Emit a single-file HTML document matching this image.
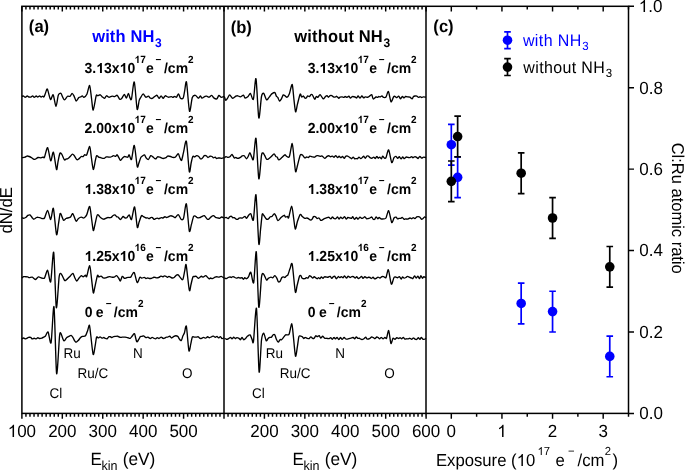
<!DOCTYPE html>
<html><head><meta charset="utf-8"><style>
html,body{margin:0;padding:0;background:#fff;}
body{width:685px;height:470px;overflow:hidden;}
svg{display:block;font-family:"Liberation Sans", sans-serif;text-rendering:geometricPrecision;will-change:transform;}
</style></head><body>
<svg width="685" height="470" viewBox="0 0 685 470">
<rect width="685" height="470" fill="#fff"/>
<path d="M21.90 6.30v5.3M21.90 413.40v5.3M25.94 6.30v3.3M25.94 413.40v3.3M29.98 6.30v3.3M29.98 413.40v3.3M34.03 6.30v3.3M34.03 413.40v3.3M38.07 6.30v3.3M38.07 413.40v3.3M42.11 6.30v3.3M42.11 413.40v3.3M46.15 6.30v3.3M46.15 413.40v3.3M50.19 6.30v3.3M50.19 413.40v3.3M54.24 6.30v3.3M54.24 413.40v3.3M58.28 6.30v3.3M58.28 413.40v3.3M62.32 6.30v5.3M62.32 413.40v5.3M66.36 6.30v3.3M66.36 413.40v3.3M70.40 6.30v3.3M70.40 413.40v3.3M74.45 6.30v3.3M74.45 413.40v3.3M78.49 6.30v3.3M78.49 413.40v3.3M82.53 6.30v3.3M82.53 413.40v3.3M86.57 6.30v3.3M86.57 413.40v3.3M90.61 6.30v3.3M90.61 413.40v3.3M94.66 6.30v3.3M94.66 413.40v3.3M98.70 6.30v3.3M98.70 413.40v3.3M102.74 6.30v5.3M102.74 413.40v5.3M106.78 6.30v3.3M106.78 413.40v3.3M110.82 6.30v3.3M110.82 413.40v3.3M114.87 6.30v3.3M114.87 413.40v3.3M118.91 6.30v3.3M118.91 413.40v3.3M122.95 6.30v3.3M122.95 413.40v3.3M126.99 6.30v3.3M126.99 413.40v3.3M131.03 6.30v3.3M131.03 413.40v3.3M135.08 6.30v3.3M135.08 413.40v3.3M139.12 6.30v3.3M139.12 413.40v3.3M143.16 6.30v5.3M143.16 413.40v5.3M147.20 6.30v3.3M147.20 413.40v3.3M151.24 6.30v3.3M151.24 413.40v3.3M155.29 6.30v3.3M155.29 413.40v3.3M159.33 6.30v3.3M159.33 413.40v3.3M163.37 6.30v3.3M163.37 413.40v3.3M167.41 6.30v3.3M167.41 413.40v3.3M171.45 6.30v3.3M171.45 413.40v3.3M175.50 6.30v3.3M175.50 413.40v3.3M179.54 6.30v3.3M179.54 413.40v3.3M183.58 6.30v5.3M183.58 413.40v5.3M187.62 6.30v3.3M187.62 413.40v3.3M191.66 6.30v3.3M191.66 413.40v3.3M195.71 6.30v3.3M195.71 413.40v3.3M199.75 6.30v3.3M199.75 413.40v3.3M203.79 6.30v3.3M203.79 413.40v3.3M207.83 6.30v3.3M207.83 413.40v3.3M211.87 6.30v3.3M211.87 413.40v3.3M215.92 6.30v3.3M215.92 413.40v3.3M219.96 6.30v3.3M219.96 413.40v3.3M224.00 6.30v5.3M224.00 413.40v5.3M224.00 6.30v5.3M224.00 413.40v5.3M228.04 6.30v3.3M228.04 413.40v3.3M232.08 6.30v3.3M232.08 413.40v3.3M236.13 6.30v3.3M236.13 413.40v3.3M240.17 6.30v3.3M240.17 413.40v3.3M244.21 6.30v3.3M244.21 413.40v3.3M248.25 6.30v3.3M248.25 413.40v3.3M252.29 6.30v3.3M252.29 413.40v3.3M256.34 6.30v3.3M256.34 413.40v3.3M260.38 6.30v3.3M260.38 413.40v3.3M264.42 6.30v5.3M264.42 413.40v5.3M268.46 6.30v3.3M268.46 413.40v3.3M272.50 6.30v3.3M272.50 413.40v3.3M276.55 6.30v3.3M276.55 413.40v3.3M280.59 6.30v3.3M280.59 413.40v3.3M284.63 6.30v3.3M284.63 413.40v3.3M288.67 6.30v3.3M288.67 413.40v3.3M292.71 6.30v3.3M292.71 413.40v3.3M296.76 6.30v3.3M296.76 413.40v3.3M300.80 6.30v3.3M300.80 413.40v3.3M304.84 6.30v5.3M304.84 413.40v5.3M308.88 6.30v3.3M308.88 413.40v3.3M312.92 6.30v3.3M312.92 413.40v3.3M316.97 6.30v3.3M316.97 413.40v3.3M321.01 6.30v3.3M321.01 413.40v3.3M325.05 6.30v3.3M325.05 413.40v3.3M329.09 6.30v3.3M329.09 413.40v3.3M333.13 6.30v3.3M333.13 413.40v3.3M337.18 6.30v3.3M337.18 413.40v3.3M341.22 6.30v3.3M341.22 413.40v3.3M345.26 6.30v5.3M345.26 413.40v5.3M349.30 6.30v3.3M349.30 413.40v3.3M353.34 6.30v3.3M353.34 413.40v3.3M357.39 6.30v3.3M357.39 413.40v3.3M361.43 6.30v3.3M361.43 413.40v3.3M365.47 6.30v3.3M365.47 413.40v3.3M369.51 6.30v3.3M369.51 413.40v3.3M373.55 6.30v3.3M373.55 413.40v3.3M377.60 6.30v3.3M377.60 413.40v3.3M381.64 6.30v3.3M381.64 413.40v3.3M385.68 6.30v5.3M385.68 413.40v5.3M389.72 6.30v3.3M389.72 413.40v3.3M393.76 6.30v3.3M393.76 413.40v3.3M397.81 6.30v3.3M397.81 413.40v3.3M401.85 6.30v3.3M401.85 413.40v3.3M405.89 6.30v3.3M405.89 413.40v3.3M409.93 6.30v3.3M409.93 413.40v3.3M413.97 6.30v3.3M413.97 413.40v3.3M418.02 6.30v3.3M418.02 413.40v3.3M422.06 6.30v3.3M422.06 413.40v3.3M426.10 6.30v5.3M426.10 413.40v5.3M426.00 6.30v3.3M426.00 413.40v3.3M451.31 6.30v5.3M451.31 413.40v5.3M476.62 6.30v3.3M476.62 413.40v3.3M501.94 6.30v5.3M501.94 413.40v5.3M527.25 6.30v3.3M527.25 413.40v3.3M552.56 6.30v5.3M552.56 413.40v5.3M577.88 6.30v3.3M577.88 413.40v3.3M603.19 6.30v5.3M603.19 413.40v5.3M628.50 6.30v3.3M628.50 413.40v3.3M628.50 413.40h5.5M628.50 331.98h5.5M628.50 250.56h5.5M628.50 169.14h5.5M628.50 87.72h5.5M628.50 6.30h5.5" stroke="#000" stroke-width="1.45" fill="none"/>
<rect x="21.90" y="6.30" width="606.60" height="407.10" fill="none" stroke="#000" stroke-width="1.5"/>
<line x1="224.00" y1="6.30" x2="224.00" y2="413.40" stroke="#000" stroke-width="1.5"/>
<line x1="426.00" y1="6.30" x2="426.00" y2="413.40" stroke="#000" stroke-width="1.5"/>
<path transform="translate(7.72 437.00) scale(0.00830 -0.00863)" fill="#000" d="M763 0H583V1097Q518 1038 412 979Q307 920 223 890V1057Q374 1125 487 1221Q600 1318 647 1409H763Z"/>
<text transform="translate(17.17 436.70) scale(1 1.04)" font-size="17" >00</text>
<text transform="translate(62.32 436.70) scale(1 1.04)" font-size="17" text-anchor="middle" >200</text>
<text transform="translate(102.74 436.70) scale(1 1.04)" font-size="17" text-anchor="middle" >300</text>
<text transform="translate(143.16 436.70) scale(1 1.04)" font-size="17" text-anchor="middle" >400</text>
<text transform="translate(183.58 436.70) scale(1 1.04)" font-size="17" text-anchor="middle" >500</text>
<text transform="translate(264.42 436.70) scale(1 1.04)" font-size="17" text-anchor="middle" >200</text>
<text transform="translate(304.84 436.70) scale(1 1.04)" font-size="17" text-anchor="middle" >300</text>
<text transform="translate(345.26 436.70) scale(1 1.04)" font-size="17" text-anchor="middle" >400</text>
<text transform="translate(385.68 436.70) scale(1 1.04)" font-size="17" text-anchor="middle" >500</text>
<text transform="translate(426.10 436.70) scale(1 1.04)" font-size="17" text-anchor="middle" >600</text>
<text transform="translate(451.31 436.70) scale(1 1.04)" font-size="17" text-anchor="middle" >0</text>
<path transform="translate(497.21 437.00) scale(0.00830 -0.00863)" fill="#000" d="M763 0H583V1097Q518 1038 412 979Q307 920 223 890V1057Q374 1125 487 1221Q600 1318 647 1409H763Z"/>
<text transform="translate(552.56 436.70) scale(1 1.04)" font-size="17" text-anchor="middle" >2</text>
<text transform="translate(603.19 436.70) scale(1 1.04)" font-size="17" text-anchor="middle" >3</text>
<text transform="translate(639.34 419.20) scale(1 1.04)" font-size="17" >0.0</text>
<text transform="translate(639.34 337.78) scale(1 1.04)" font-size="17" >0.2</text>
<text transform="translate(639.34 256.36) scale(1 1.04)" font-size="17" >0.4</text>
<text transform="translate(639.34 174.94) scale(1 1.04)" font-size="17" >0.6</text>
<text transform="translate(639.34 93.52) scale(1 1.04)" font-size="17" >0.8</text>
<path transform="translate(638.71 12.00) scale(0.00830 -0.00863)" fill="#000" d="M763 0H583V1097Q518 1038 412 979Q307 920 223 890V1057Q374 1125 487 1221Q600 1318 647 1409H763Z"/>
<text transform="translate(648.16 12.10) scale(1 1.04)" font-size="17" >.0</text>
<text transform="translate(90.41 464.70) scale(1 1.04)" font-size="17" >E</text>
<text transform="translate(101.46 470.00) scale(1 1.04)" font-size="12.5" >kin</text>
<text transform="translate(122.63 464.70) scale(1 1.04)" font-size="17.3" >(eV)</text>
<text transform="translate(292.41 464.70) scale(1 1.04)" font-size="17" >E</text>
<text transform="translate(303.46 470.00) scale(1 1.04)" font-size="12.5" >kin</text>
<text transform="translate(324.63 464.70) scale(1 1.04)" font-size="17.3" >(eV)</text>
<text transform="translate(435.93 466.00) scale(1 1.04)" font-size="16.7" >Exposure (</text>
<path transform="translate(516.68 466.00) scale(0.00815 -0.00848)" fill="#000" d="M763 0H583V1097Q518 1038 412 979Q307 920 223 890V1057Q374 1125 487 1221Q600 1318 647 1409H763Z"/>
<text transform="translate(525.97 466.00) scale(1 1.04)" font-size="16.7" >0</text>
<path transform="translate(537.54 455.00) scale(0.00552 -0.00574)" fill="#000" d="M763 0H583V1097Q518 1038 412 979Q307 920 223 890V1057Q374 1125 487 1221Q600 1318 647 1409H763Z"/>
<text transform="translate(543.82 454.60) scale(1 1.04)" font-size="11.3" >7</text>
<text transform="translate(555.49 466.00) scale(1 1.04)" font-size="16.7" >e</text>
<text transform="translate(568.04 454.60) scale(1 1.04)" font-size="11.3" >−</text>
<text transform="translate(577.60 466.00) scale(1 1.04)" font-size="16.7" >/cm</text>
<text transform="translate(604.83 454.60) scale(1 1.04)" font-size="11.3" >2</text>
<text transform="translate(612.60 466.00) scale(1 1.04)" font-size="16.7" >)</text>
<text transform="translate(12.2,210.3) rotate(-90) scale(1 1.04)" font-size="16.7" text-anchor="middle">dN/dE</text>
<text transform="translate(671.6,208.2) rotate(90) scale(1 1.04)" font-size="16.5" text-anchor="middle">Cl:Ru atomic ratio</text>
<text transform="translate(28.87 32.20) scale(1 1.04)" font-size="16.6" font-weight="bold" >(a)</text>
<text transform="translate(230.67 32.60) scale(1 1.04)" font-size="16.6" font-weight="bold" >(b)</text>
<text transform="translate(433.37 31.80) scale(1 1.04)" font-size="16.6" font-weight="bold" >(c)</text>
<text transform="translate(92.15 42.00) scale(1 1.04)" font-size="16.5" font-weight="bold" fill="#0000ff" letter-spacing="0.15">with NH</text>
<text transform="translate(154.92 46.60) scale(1 1.04)" font-size="12" font-weight="bold" fill="#0000ff" >3</text>
<text transform="translate(294.35 41.60) scale(1 1.04)" font-size="16.5" font-weight="bold" letter-spacing="0.15">without NH</text>
<text transform="translate(383.42 46.60) scale(1 1.04)" font-size="12" font-weight="bold" >3</text>
<text transform="translate(84.58 72.50) scale(1 1.04)" font-size="14" font-weight="bold" >3.</text>
<path transform="translate(96.25 73.00) scale(0.00684 -0.00711)" fill="#000" d="M825 0H544V1014Q390 876 181 810V1054Q291 1088 420 1184Q549 1280 597 1409H825Z"/>
<text transform="translate(104.04 72.50) scale(1 1.04)" font-size="14" font-weight="bold" >3x</text>
<path transform="translate(119.61 73.00) scale(0.00684 -0.00711)" fill="#000" d="M825 0H544V1014Q390 876 181 810V1054Q291 1088 420 1184Q549 1280 597 1409H825Z"/>
<text transform="translate(127.40 72.50) scale(1 1.04)" font-size="14" font-weight="bold" >0</text>
<path transform="translate(134.57 63.00) scale(0.00488 -0.00508)" fill="#000" d="M825 0H544V1014Q390 876 181 810V1054Q291 1088 420 1184Q549 1280 597 1409H825Z"/>
<text transform="translate(140.13 62.70) scale(1 1.04)" font-size="10.0" font-weight="bold" >7</text>
<text transform="translate(146.05 72.50) scale(1 1.04)" font-size="14" font-weight="bold" >e</text>
<text transform="translate(155.58 62.50) scale(1 1.04)" font-size="10.0" font-weight="bold" >−</text>
<text transform="translate(163.96 72.50) scale(1 1.04)" font-size="14" font-weight="bold" >/cm</text>
<text transform="translate(187.95 62.80) scale(1 1.04)" font-size="10.0" font-weight="bold" >2</text>
<text transform="translate(307.68 72.50) scale(1 1.04)" font-size="14" font-weight="bold" >3.</text>
<path transform="translate(319.35 73.00) scale(0.00684 -0.00711)" fill="#000" d="M825 0H544V1014Q390 876 181 810V1054Q291 1088 420 1184Q549 1280 597 1409H825Z"/>
<text transform="translate(327.14 72.50) scale(1 1.04)" font-size="14" font-weight="bold" >3x</text>
<path transform="translate(342.71 73.00) scale(0.00684 -0.00711)" fill="#000" d="M825 0H544V1014Q390 876 181 810V1054Q291 1088 420 1184Q549 1280 597 1409H825Z"/>
<text transform="translate(350.50 72.50) scale(1 1.04)" font-size="14" font-weight="bold" >0</text>
<path transform="translate(357.67 63.00) scale(0.00488 -0.00508)" fill="#000" d="M825 0H544V1014Q390 876 181 810V1054Q291 1088 420 1184Q549 1280 597 1409H825Z"/>
<text transform="translate(363.23 62.70) scale(1 1.04)" font-size="10.0" font-weight="bold" >7</text>
<text transform="translate(369.15 72.50) scale(1 1.04)" font-size="14" font-weight="bold" >e</text>
<text transform="translate(378.68 62.50) scale(1 1.04)" font-size="10.0" font-weight="bold" >−</text>
<text transform="translate(387.06 72.50) scale(1 1.04)" font-size="14" font-weight="bold" >/cm</text>
<text transform="translate(411.05 62.80) scale(1 1.04)" font-size="10.0" font-weight="bold" >2</text>
<text transform="translate(84.58 133.00) scale(1 1.04)" font-size="14" font-weight="bold" >2.00x</text>
<path transform="translate(119.61 133.00) scale(0.00684 -0.00711)" fill="#000" d="M825 0H544V1014Q390 876 181 810V1054Q291 1088 420 1184Q549 1280 597 1409H825Z"/>
<text transform="translate(127.40 133.00) scale(1 1.04)" font-size="14" font-weight="bold" >0</text>
<path transform="translate(134.57 123.00) scale(0.00488 -0.00508)" fill="#000" d="M825 0H544V1014Q390 876 181 810V1054Q291 1088 420 1184Q549 1280 597 1409H825Z"/>
<text transform="translate(140.13 123.20) scale(1 1.04)" font-size="10.0" font-weight="bold" >7</text>
<text transform="translate(146.05 133.00) scale(1 1.04)" font-size="14" font-weight="bold" >e</text>
<text transform="translate(155.58 123.00) scale(1 1.04)" font-size="10.0" font-weight="bold" >−</text>
<text transform="translate(163.96 133.00) scale(1 1.04)" font-size="14" font-weight="bold" >/cm</text>
<text transform="translate(187.95 123.30) scale(1 1.04)" font-size="10.0" font-weight="bold" >2</text>
<text transform="translate(307.68 133.00) scale(1 1.04)" font-size="14" font-weight="bold" >2.00x</text>
<path transform="translate(342.71 133.00) scale(0.00684 -0.00711)" fill="#000" d="M825 0H544V1014Q390 876 181 810V1054Q291 1088 420 1184Q549 1280 597 1409H825Z"/>
<text transform="translate(350.50 133.00) scale(1 1.04)" font-size="14" font-weight="bold" >0</text>
<path transform="translate(357.67 123.00) scale(0.00488 -0.00508)" fill="#000" d="M825 0H544V1014Q390 876 181 810V1054Q291 1088 420 1184Q549 1280 597 1409H825Z"/>
<text transform="translate(363.23 123.20) scale(1 1.04)" font-size="10.0" font-weight="bold" >7</text>
<text transform="translate(369.15 133.00) scale(1 1.04)" font-size="14" font-weight="bold" >e</text>
<text transform="translate(378.68 123.00) scale(1 1.04)" font-size="10.0" font-weight="bold" >−</text>
<text transform="translate(387.06 133.00) scale(1 1.04)" font-size="14" font-weight="bold" >/cm</text>
<text transform="translate(411.05 123.30) scale(1 1.04)" font-size="10.0" font-weight="bold" >2</text>
<path transform="translate(84.58 194.00) scale(0.00684 -0.00711)" fill="#000" d="M825 0H544V1014Q390 876 181 810V1054Q291 1088 420 1184Q549 1280 597 1409H825Z"/>
<text transform="translate(92.36 194.10) scale(1 1.04)" font-size="14" font-weight="bold" >.38x</text>
<path transform="translate(119.61 194.00) scale(0.00684 -0.00711)" fill="#000" d="M825 0H544V1014Q390 876 181 810V1054Q291 1088 420 1184Q549 1280 597 1409H825Z"/>
<text transform="translate(127.40 194.10) scale(1 1.04)" font-size="14" font-weight="bold" >0</text>
<path transform="translate(134.57 184.00) scale(0.00488 -0.00508)" fill="#000" d="M825 0H544V1014Q390 876 181 810V1054Q291 1088 420 1184Q549 1280 597 1409H825Z"/>
<text transform="translate(140.13 184.30) scale(1 1.04)" font-size="10.0" font-weight="bold" >7</text>
<text transform="translate(146.05 194.10) scale(1 1.04)" font-size="14" font-weight="bold" >e</text>
<text transform="translate(155.58 184.10) scale(1 1.04)" font-size="10.0" font-weight="bold" >−</text>
<text transform="translate(163.96 194.10) scale(1 1.04)" font-size="14" font-weight="bold" >/cm</text>
<text transform="translate(187.95 184.40) scale(1 1.04)" font-size="10.0" font-weight="bold" >2</text>
<path transform="translate(307.68 194.00) scale(0.00684 -0.00711)" fill="#000" d="M825 0H544V1014Q390 876 181 810V1054Q291 1088 420 1184Q549 1280 597 1409H825Z"/>
<text transform="translate(315.46 194.10) scale(1 1.04)" font-size="14" font-weight="bold" >.38x</text>
<path transform="translate(342.71 194.00) scale(0.00684 -0.00711)" fill="#000" d="M825 0H544V1014Q390 876 181 810V1054Q291 1088 420 1184Q549 1280 597 1409H825Z"/>
<text transform="translate(350.50 194.10) scale(1 1.04)" font-size="14" font-weight="bold" >0</text>
<path transform="translate(357.67 184.00) scale(0.00488 -0.00508)" fill="#000" d="M825 0H544V1014Q390 876 181 810V1054Q291 1088 420 1184Q549 1280 597 1409H825Z"/>
<text transform="translate(363.23 184.30) scale(1 1.04)" font-size="10.0" font-weight="bold" >7</text>
<text transform="translate(369.15 194.10) scale(1 1.04)" font-size="14" font-weight="bold" >e</text>
<text transform="translate(378.68 184.10) scale(1 1.04)" font-size="10.0" font-weight="bold" >−</text>
<text transform="translate(387.06 194.10) scale(1 1.04)" font-size="14" font-weight="bold" >/cm</text>
<text transform="translate(411.05 184.40) scale(1 1.04)" font-size="10.0" font-weight="bold" >2</text>
<path transform="translate(84.58 261.00) scale(0.00684 -0.00711)" fill="#000" d="M825 0H544V1014Q390 876 181 810V1054Q291 1088 420 1184Q549 1280 597 1409H825Z"/>
<text transform="translate(92.36 260.60) scale(1 1.04)" font-size="14" font-weight="bold" >.25x</text>
<path transform="translate(119.61 261.00) scale(0.00684 -0.00711)" fill="#000" d="M825 0H544V1014Q390 876 181 810V1054Q291 1088 420 1184Q549 1280 597 1409H825Z"/>
<text transform="translate(127.40 260.60) scale(1 1.04)" font-size="14" font-weight="bold" >0</text>
<path transform="translate(134.57 251.00) scale(0.00488 -0.00508)" fill="#000" d="M825 0H544V1014Q390 876 181 810V1054Q291 1088 420 1184Q549 1280 597 1409H825Z"/>
<text transform="translate(140.13 250.80) scale(1 1.04)" font-size="10.0" font-weight="bold" >6</text>
<text transform="translate(146.05 260.60) scale(1 1.04)" font-size="14" font-weight="bold" >e</text>
<text transform="translate(155.58 250.60) scale(1 1.04)" font-size="10.0" font-weight="bold" >−</text>
<text transform="translate(163.96 260.60) scale(1 1.04)" font-size="14" font-weight="bold" >/cm</text>
<text transform="translate(187.95 250.90) scale(1 1.04)" font-size="10.0" font-weight="bold" >2</text>
<path transform="translate(307.68 261.00) scale(0.00684 -0.00711)" fill="#000" d="M825 0H544V1014Q390 876 181 810V1054Q291 1088 420 1184Q549 1280 597 1409H825Z"/>
<text transform="translate(315.46 260.60) scale(1 1.04)" font-size="14" font-weight="bold" >.25x</text>
<path transform="translate(342.71 261.00) scale(0.00684 -0.00711)" fill="#000" d="M825 0H544V1014Q390 876 181 810V1054Q291 1088 420 1184Q549 1280 597 1409H825Z"/>
<text transform="translate(350.50 260.60) scale(1 1.04)" font-size="14" font-weight="bold" >0</text>
<path transform="translate(357.67 251.00) scale(0.00488 -0.00508)" fill="#000" d="M825 0H544V1014Q390 876 181 810V1054Q291 1088 420 1184Q549 1280 597 1409H825Z"/>
<text transform="translate(363.23 250.80) scale(1 1.04)" font-size="10.0" font-weight="bold" >6</text>
<text transform="translate(369.15 260.60) scale(1 1.04)" font-size="14" font-weight="bold" >e</text>
<text transform="translate(378.68 250.60) scale(1 1.04)" font-size="10.0" font-weight="bold" >−</text>
<text transform="translate(387.06 260.60) scale(1 1.04)" font-size="14" font-weight="bold" >/cm</text>
<text transform="translate(411.05 250.90) scale(1 1.04)" font-size="10.0" font-weight="bold" >2</text>
<text transform="translate(84.75 316.60) scale(1 1.04)" font-size="14" font-weight="bold" >0</text>
<text transform="translate(95.85 316.60) scale(1 1.04)" font-size="14" font-weight="bold" >e</text>
<text transform="translate(105.68 306.60) scale(1 1.04)" font-size="10.0" font-weight="bold" >−</text>
<text transform="translate(113.76 316.60) scale(1 1.04)" font-size="14" font-weight="bold" >/cm</text>
<text transform="translate(137.95 306.90) scale(1 1.04)" font-size="10.0" font-weight="bold" >2</text>
<text transform="translate(307.85 316.60) scale(1 1.04)" font-size="14" font-weight="bold" >0</text>
<text transform="translate(318.95 316.60) scale(1 1.04)" font-size="14" font-weight="bold" >e</text>
<text transform="translate(328.78 306.60) scale(1 1.04)" font-size="10.0" font-weight="bold" >−</text>
<text transform="translate(336.86 316.60) scale(1 1.04)" font-size="14" font-weight="bold" >/cm</text>
<text transform="translate(361.05 306.90) scale(1 1.04)" font-size="10.0" font-weight="bold" >2</text>
<text transform="translate(63.39 357.50) scale(1 1.04)" font-size="13.5" >Ru</text>
<text transform="translate(77.49 377.70) scale(1 1.04)" font-size="13.5" >Ru/C</text>
<text transform="translate(132.89 357.50) scale(1 1.04)" font-size="13.5" >N</text>
<text transform="translate(182.06 377.70) scale(1 1.04)" font-size="13.5" >O</text>
<text transform="translate(49.41 398.20) scale(1 1.04)" font-size="13.5" >Cl</text>
<text transform="translate(265.79 357.50) scale(1 1.04)" font-size="13.5" >Ru</text>
<text transform="translate(279.79 377.70) scale(1 1.04)" font-size="13.5" >Ru/C</text>
<text transform="translate(335.29 357.50) scale(1 1.04)" font-size="13.5" >N</text>
<text transform="translate(384.26 377.70) scale(1 1.04)" font-size="13.5" >O</text>
<text transform="translate(252.11 398.20) scale(1 1.04)" font-size="13.5" >Cl</text>
<path d="M21.90 96.30C22.12 96.26 23.12 95.90 23.56 96.03C24.00 96.16 24.70 97.30 25.19 97.30C25.69 97.30 26.79 96.05 27.28 96.01C27.77 95.97 28.37 96.85 28.85 96.99C29.32 97.13 30.32 97.22 30.83 97.06C31.34 96.91 32.21 95.79 32.66 95.82C33.11 95.85 33.74 97.27 34.21 97.30C34.68 97.33 35.70 96.08 36.17 96.04C36.63 96.00 37.24 97.02 37.70 97.00C38.16 96.98 39.13 95.92 39.59 95.92C40.05 95.93 40.73 97.01 41.15 97.02C41.57 97.04 42.36 96.06 42.73 96.05C43.11 96.03 43.61 97.35 44.00 96.90C44.39 96.45 45.18 93.71 45.63 92.68C46.08 91.66 46.75 88.30 47.40 89.20C48.05 90.10 49.73 98.65 50.50 99.40C51.27 100.15 52.47 93.87 53.20 94.80C53.93 95.73 55.32 106.33 56.00 106.40C56.68 106.47 57.65 97.05 58.30 95.30C58.95 93.55 60.31 93.05 60.90 93.30C61.49 93.55 62.21 96.30 62.69 97.18C63.17 98.06 63.86 100.02 64.50 99.90C65.14 99.78 66.75 96.78 67.50 96.30C68.25 95.82 69.49 96.70 70.10 96.30C70.71 95.90 71.59 93.36 72.10 93.30C72.61 93.24 73.41 94.85 73.96 95.88C74.51 96.90 75.55 100.80 76.20 101.00C76.85 101.20 78.22 97.93 78.80 97.40C79.38 96.87 80.10 97.21 80.56 97.00C81.03 96.78 81.86 95.75 82.30 95.80C82.74 95.85 83.29 97.60 83.90 97.40C84.51 97.20 86.14 95.87 86.90 94.30C87.66 92.73 88.98 85.04 89.60 85.60C90.22 86.16 91.05 95.22 91.53 98.48C92.01 101.75 92.58 110.46 93.20 110.10C93.82 109.74 95.58 97.72 96.20 95.80C96.82 93.88 97.28 95.83 97.83 95.70C98.37 95.56 99.73 94.67 100.30 94.80C100.87 94.93 101.52 96.22 102.07 96.70C102.62 97.18 103.81 98.52 104.40 98.40C104.99 98.28 105.89 95.96 106.50 95.80C107.11 95.64 108.25 97.16 109.00 97.20C109.75 97.24 111.35 96.18 112.10 96.10C112.85 96.02 113.92 96.71 114.60 96.60C115.28 96.49 116.52 94.95 117.20 95.30C117.88 95.65 119.09 98.79 119.70 99.20C120.31 99.61 121.19 99.05 121.80 98.40C122.41 97.75 123.69 94.33 124.30 94.30C124.91 94.27 125.85 98.33 126.40 98.20C126.95 98.07 127.92 93.34 128.40 93.30C128.88 93.26 129.59 97.15 130.00 97.90C130.41 98.65 130.93 101.02 131.50 98.90C132.07 96.78 133.55 80.64 134.30 82.00C135.05 83.36 136.45 106.65 137.10 109.10C137.75 111.55 138.71 101.97 139.20 100.40C139.69 98.83 140.26 98.19 140.80 97.31C141.33 96.43 142.53 93.81 143.20 93.80C143.87 93.79 145.11 96.89 145.80 97.20C146.49 97.51 147.82 96.00 148.40 96.10C148.98 96.20 149.63 97.67 150.16 97.97C150.69 98.28 151.75 98.62 152.40 98.40C153.05 98.18 154.39 96.71 155.00 96.30C155.61 95.89 156.45 95.02 157.00 95.30C157.55 95.58 158.55 98.33 159.10 98.40C159.65 98.47 160.55 95.80 161.10 95.80C161.65 95.80 162.65 98.40 163.20 98.40C163.75 98.40 164.52 95.96 165.20 95.80C165.88 95.64 167.47 97.09 168.30 97.20C169.13 97.31 170.79 96.57 171.40 96.60C172.01 96.63 172.47 97.43 172.90 97.40C173.33 97.37 174.15 96.37 174.63 96.35C175.11 96.32 175.98 97.54 176.50 97.20C177.02 96.86 177.97 93.67 178.50 93.80C179.03 93.93 179.89 97.61 180.50 98.20C181.11 98.79 182.55 99.13 183.10 98.20C183.65 97.27 184.17 93.32 184.62 91.19C185.07 89.05 185.85 79.53 186.50 82.20C187.15 84.87 188.73 109.17 189.50 111.20C190.27 113.23 191.51 99.52 192.30 97.40C193.09 95.28 194.59 95.19 195.40 95.30C196.21 95.41 197.72 98.13 198.40 98.20C199.08 98.27 200.02 95.80 200.50 95.80C200.98 95.80 201.39 98.13 202.00 98.20C202.61 98.27 204.47 96.57 205.10 96.30C205.73 96.03 206.16 96.06 206.71 96.18C207.26 96.30 208.53 97.32 209.20 97.20C209.87 97.08 211.09 95.21 211.70 95.30C212.31 95.39 213.12 97.42 213.80 97.90C214.48 98.38 216.12 99.22 216.80 98.90C217.48 98.58 218.29 95.70 218.90 95.50C219.51 95.30 220.72 97.29 221.40 97.40C222.08 97.51 223.65 96.45 224.00 96.30" fill="none" stroke="#000" stroke-width="1.35" stroke-linejoin="round"/>
<path d="M21.90 157.70C22.31 157.63 24.34 157.42 25.00 157.20C25.66 156.98 26.29 156.17 26.85 156.07C27.41 155.98 28.51 156.24 29.20 156.50C29.89 156.76 31.43 157.65 32.00 158.00C32.57 158.35 33.00 158.93 33.44 159.09C33.88 159.25 34.69 159.41 35.30 159.20C35.91 158.99 37.24 157.69 38.00 157.50C38.76 157.31 40.33 157.86 41.00 157.80C41.67 157.74 42.57 157.13 43.04 157.05C43.50 156.97 43.89 158.46 44.50 157.20C45.11 155.94 46.77 147.12 47.60 147.60C48.43 148.08 49.93 160.19 50.70 160.80C51.47 161.41 52.63 151.04 53.40 152.20C54.17 153.36 55.89 168.18 56.50 169.50C57.11 170.82 57.50 164.22 57.95 162.07C58.41 159.93 59.40 154.45 59.90 153.40C60.40 152.35 61.10 153.35 61.70 154.20C62.30 155.05 63.85 159.15 64.40 159.80C64.95 160.45 65.45 159.19 65.84 159.07C66.23 158.95 66.92 159.09 67.34 158.91C67.76 158.72 68.57 158.08 69.00 157.70C69.43 157.32 70.15 156.54 70.60 156.08C71.06 155.61 71.92 154.28 72.40 154.20C72.88 154.12 73.60 154.78 74.17 155.49C74.75 156.19 76.14 158.99 76.70 159.50C77.26 160.01 77.76 159.71 78.37 159.31C78.99 158.91 80.67 156.86 81.30 156.50C81.93 156.14 82.66 156.87 83.12 156.62C83.58 156.38 84.28 154.88 84.75 154.65C85.23 154.42 86.04 155.99 86.70 154.90C87.36 153.81 89.07 146.12 89.70 146.50C90.33 146.88 90.91 154.69 91.39 157.75C91.87 160.82 92.78 169.11 93.30 169.50C93.82 169.89 94.88 162.55 95.32 160.71C95.76 158.87 96.16 156.17 96.60 155.70C97.04 155.23 98.19 156.93 98.64 157.17C99.10 157.41 99.58 157.37 100.00 157.50C100.42 157.63 101.24 158.01 101.81 158.12C102.39 158.23 103.71 158.45 104.30 158.30C104.89 158.15 105.76 157.13 106.25 156.96C106.75 156.79 107.48 156.97 108.00 157.00C108.52 157.03 109.66 157.23 110.19 157.17C110.72 157.10 111.55 156.71 112.00 156.50C112.45 156.29 113.08 155.62 113.56 155.60C114.05 155.59 115.13 156.51 115.63 156.41C116.12 156.32 116.66 154.38 117.30 154.90C117.94 155.42 119.70 159.89 120.40 160.30C121.10 160.71 121.97 158.48 122.53 157.97C123.09 157.47 123.91 156.60 124.60 156.50C125.29 156.40 127.09 157.41 127.70 157.20C128.31 156.99 128.69 154.59 129.20 154.90C129.71 155.21 130.82 160.77 131.50 159.50C132.18 158.23 133.54 144.48 134.30 145.40C135.06 146.32 136.61 163.98 137.20 166.40C137.79 168.82 138.28 164.67 138.74 163.51C139.21 162.35 140.21 158.70 140.70 157.70C141.19 156.70 141.91 156.38 142.42 156.00C142.93 155.63 144.02 154.68 144.50 154.90C144.98 155.12 145.48 157.04 146.00 157.66C146.52 158.27 147.77 159.76 148.40 159.50C149.03 159.24 150.10 156.05 150.70 155.70C151.30 155.35 152.38 156.56 152.88 156.91C153.39 157.26 154.08 158.05 154.50 158.30C154.92 158.55 155.60 158.98 156.00 158.79C156.41 158.59 157.00 157.05 157.52 156.84C158.04 156.63 159.37 157.05 159.90 157.20C160.43 157.35 161.03 157.76 161.47 157.94C161.91 158.11 162.59 158.52 163.20 158.49C163.80 158.46 165.40 158.03 166.00 157.70C166.60 157.37 167.07 156.21 167.68 156.05C168.30 155.89 169.97 156.33 170.60 156.50C171.23 156.67 171.79 157.22 172.40 157.31C173.01 157.40 174.43 157.68 175.20 157.20C175.97 156.72 177.57 153.60 178.20 153.70C178.83 153.80 179.50 157.07 179.95 157.95C180.41 158.83 181.12 161.08 181.60 160.30C182.08 159.52 182.94 154.65 183.58 152.13C184.22 149.61 185.64 138.82 186.40 141.40C187.16 143.98 188.67 168.62 189.30 171.50C189.93 174.38 190.68 164.99 191.14 162.99C191.61 160.99 192.31 157.30 192.80 156.50C193.29 155.70 194.31 157.07 194.82 156.96C195.32 156.86 196.08 155.76 196.60 155.70C197.12 155.64 198.21 156.08 198.73 156.49C199.25 156.90 200.03 158.58 200.50 158.80C200.97 159.02 201.76 158.57 202.26 158.16C202.77 157.74 203.77 156.02 204.30 155.70C204.83 155.38 205.77 155.50 206.26 155.74C206.75 155.98 207.49 157.43 208.00 157.50C208.51 157.57 209.54 156.39 210.07 156.25C210.61 156.12 211.55 156.29 212.00 156.50C212.45 156.71 213.03 157.75 213.46 157.84C213.88 157.93 214.74 157.08 215.17 157.18C215.61 157.28 216.35 158.49 216.74 158.60C217.13 158.71 217.69 158.07 218.10 158.00C218.51 157.93 219.33 158.00 219.82 158.04C220.31 158.08 221.20 158.37 221.76 158.32C222.31 158.28 223.70 157.78 224.00 157.70" fill="none" stroke="#000" stroke-width="1.35" stroke-linejoin="round"/>
<path d="M21.90 217.70C22.12 217.77 22.99 218.29 23.55 218.23C24.11 218.16 25.53 217.57 26.10 217.20C26.67 216.83 27.33 215.75 27.85 215.45C28.37 215.14 29.42 214.60 30.00 214.90C30.58 215.20 31.68 217.15 32.19 217.73C32.69 218.30 33.23 219.23 33.80 219.20C34.37 219.17 35.93 217.75 36.50 217.50C37.07 217.25 37.66 217.27 38.11 217.30C38.57 217.33 39.38 217.54 39.90 217.70C40.42 217.86 41.39 218.46 42.00 218.50C42.61 218.54 43.75 219.09 44.50 218.00C45.25 216.91 46.77 210.10 47.60 210.30C48.43 210.50 49.93 219.74 50.70 219.50C51.47 219.26 52.63 206.50 53.40 208.50C54.17 210.50 55.80 232.58 56.50 234.50C57.20 236.42 58.14 225.71 58.63 222.90C59.12 220.09 59.71 214.11 60.20 213.40C60.69 212.69 61.87 216.65 62.34 217.57C62.80 218.49 63.21 220.18 63.70 220.30C64.19 220.42 65.29 218.85 66.00 218.50C66.71 218.15 68.37 217.94 69.00 217.70C69.63 217.46 70.22 217.21 70.74 216.68C71.26 216.14 72.20 213.11 72.90 213.70C73.60 214.29 75.25 220.46 76.00 221.10C76.75 221.74 77.79 219.02 78.50 218.50C79.21 217.98 80.57 217.27 81.30 217.20C82.03 217.13 83.28 218.31 84.00 218.00C84.72 217.69 85.94 216.43 86.70 214.90C87.46 213.37 89.03 205.82 89.70 206.50C90.37 207.18 91.26 216.77 91.74 219.98C92.22 223.20 92.87 230.00 93.30 230.60C93.73 231.20 94.42 226.56 94.97 224.47C95.52 222.37 96.66 215.83 97.40 214.90C98.14 213.97 99.69 216.93 100.50 217.50C101.31 218.07 102.70 219.13 103.50 219.20C104.30 219.27 105.90 218.22 106.50 218.00C107.10 217.78 107.58 217.58 108.00 217.54C108.43 217.50 109.27 217.72 109.70 217.70C110.13 217.68 110.82 217.68 111.26 217.39C111.71 217.10 112.54 215.85 113.04 215.52C113.54 215.18 114.53 214.74 115.00 214.90C115.47 215.06 116.19 216.41 116.60 216.70C117.02 216.99 117.61 216.67 118.11 217.05C118.62 217.42 119.74 219.57 120.40 219.50C121.06 219.43 122.51 216.73 123.10 216.50C123.69 216.27 124.34 217.65 124.85 217.81C125.35 217.97 126.32 218.09 126.90 217.70C127.48 217.31 128.59 214.66 129.20 214.90C129.81 215.14 130.78 220.55 131.50 219.50C132.22 218.45 133.83 205.97 134.60 207.00C135.37 208.03 136.70 225.21 137.30 227.20C137.90 229.19 138.55 223.47 139.11 221.93C139.67 220.40 140.93 216.40 141.50 215.70C142.07 215.00 142.80 216.39 143.41 216.69C144.02 217.00 145.54 217.84 146.10 218.00C146.66 218.16 147.19 217.78 147.60 217.87C148.01 217.96 148.75 218.70 149.17 218.67C149.58 218.65 150.28 217.85 150.70 217.70C151.12 217.55 151.88 217.32 152.33 217.55C152.77 217.77 153.65 219.22 154.04 219.39C154.44 219.56 154.89 218.96 155.30 218.80C155.71 218.64 156.66 218.19 157.14 218.18C157.61 218.17 158.29 218.80 158.86 218.74C159.43 218.67 160.85 217.80 161.40 217.70C161.95 217.60 162.49 218.14 162.96 218.02C163.43 217.89 164.45 216.80 164.92 216.73C165.38 216.66 165.87 217.53 166.42 217.50C166.96 217.47 168.39 216.74 169.00 216.50C169.61 216.26 170.40 215.72 170.97 215.73C171.54 215.74 172.70 216.33 173.26 216.59C173.83 216.85 174.54 217.97 175.20 217.70C175.86 217.43 177.39 214.36 178.20 214.60C179.01 214.84 180.58 219.05 181.30 219.50C182.02 219.95 182.92 220.08 183.60 218.00C184.28 215.92 185.64 202.17 186.40 203.90C187.16 205.63 188.64 228.23 189.30 231.00C189.96 233.77 190.79 226.61 191.37 224.68C191.94 222.75 193.03 217.62 193.60 216.50C194.17 215.38 195.16 216.13 195.65 216.28C196.14 216.43 196.74 217.45 197.28 217.64C197.82 217.83 199.12 217.83 199.70 217.70C200.28 217.57 201.03 216.94 201.65 216.67C202.26 216.41 203.53 215.36 204.30 215.70C205.07 216.04 206.79 218.74 207.40 219.20C208.01 219.66 208.39 219.45 208.88 219.14C209.38 218.83 210.52 217.33 211.14 216.87C211.75 216.41 212.92 215.63 213.50 215.70C214.08 215.77 214.89 217.06 215.50 217.37C216.11 217.68 217.56 217.86 218.10 218.00C218.64 218.14 219.07 218.56 219.55 218.43C220.03 218.29 221.12 217.08 221.72 217.02C222.31 216.96 223.70 217.87 224.00 218.00" fill="none" stroke="#000" stroke-width="1.35" stroke-linejoin="round"/>
<path d="M21.90 278.00C22.14 277.83 23.21 276.88 23.70 276.71C24.18 276.54 25.01 276.70 25.54 276.73C26.07 276.75 27.20 276.77 27.70 276.90C28.20 277.03 28.69 277.65 29.30 277.69C29.92 277.73 31.50 276.96 32.30 277.20C33.10 277.44 34.49 279.54 35.30 279.50C36.11 279.46 37.57 277.10 38.40 276.90C39.23 276.70 40.69 277.85 41.50 278.00C42.31 278.15 43.69 279.03 44.50 278.00C45.31 276.97 46.77 269.79 47.60 270.30C48.43 270.81 49.89 284.19 50.70 281.80C51.51 279.41 52.95 248.97 53.70 252.40C54.45 255.83 55.58 304.19 56.30 307.50C57.02 310.81 58.53 281.75 59.10 277.20C59.67 272.65 60.18 273.61 60.60 273.40C61.02 273.19 61.70 274.67 62.22 275.59C62.74 276.51 63.98 279.70 64.50 280.30C65.02 280.90 65.53 280.47 66.13 280.06C66.73 279.65 68.41 277.78 69.00 277.20C69.59 276.62 70.04 276.18 70.56 275.68C71.08 275.17 72.35 273.16 72.90 273.40C73.45 273.64 74.16 276.45 74.67 277.46C75.17 278.48 76.14 280.89 76.70 281.00C77.26 281.11 78.24 278.99 78.86 278.28C79.47 277.58 80.73 275.90 81.30 275.70C81.87 275.50 82.56 276.83 83.12 276.77C83.68 276.70 85.00 275.28 85.48 275.23C85.95 275.18 86.14 277.67 86.70 276.40C87.26 275.13 89.06 265.43 89.70 265.70C90.34 265.97 91.01 274.81 91.49 278.43C91.97 282.04 92.86 291.62 93.30 292.80C93.74 293.98 94.27 289.59 94.81 287.31C95.36 285.03 96.87 277.08 97.40 275.70C97.93 274.32 98.32 276.88 98.80 276.93C99.28 276.99 100.35 275.96 100.98 276.10C101.60 276.24 102.94 277.75 103.50 278.00C104.06 278.25 104.61 278.10 105.21 277.96C105.81 277.83 107.44 277.17 108.00 277.00C108.56 276.83 108.91 276.66 109.44 276.69C109.97 276.72 111.37 277.14 112.00 277.20C112.63 277.26 113.54 277.36 114.15 277.16C114.76 276.96 115.98 275.55 116.60 275.70C117.22 275.85 118.26 277.56 118.76 278.26C119.27 278.97 119.93 281.25 120.40 281.00C120.87 280.75 121.76 276.76 122.30 276.40C122.84 276.04 123.92 278.11 124.43 278.32C124.94 278.53 125.64 278.13 126.10 278.00C126.56 277.87 127.25 277.45 127.86 277.34C128.47 277.24 130.13 277.55 130.70 277.20C131.27 276.85 131.66 275.32 132.14 274.70C132.62 274.09 133.63 271.55 134.30 272.60C134.97 273.65 136.45 281.99 137.20 282.60C137.95 283.21 139.27 277.79 139.90 277.20C140.53 276.61 141.31 278.14 141.89 278.16C142.47 278.18 143.72 277.29 144.27 277.34C144.82 277.39 145.56 278.44 146.00 278.53C146.45 278.62 147.18 278.01 147.60 278.00C148.02 277.99 148.66 278.43 149.18 278.47C149.69 278.50 150.86 278.44 151.49 278.28C152.12 278.12 153.38 277.35 153.89 277.25C154.40 277.14 154.88 277.41 155.30 277.50C155.72 277.59 156.55 277.94 157.03 277.92C157.51 277.91 158.39 277.65 158.90 277.41C159.42 277.18 160.37 276.26 160.87 276.17C161.38 276.08 162.23 276.79 162.71 276.76C163.20 276.73 164.08 276.00 164.52 275.95C164.96 275.90 165.61 276.22 166.00 276.40C166.39 276.58 167.02 277.33 167.42 277.33C167.81 277.32 168.32 276.27 168.95 276.36C169.57 276.45 171.40 277.85 172.10 278.00C172.80 278.15 173.58 277.83 174.16 277.46C174.74 277.08 175.89 275.54 176.43 275.19C176.97 274.85 177.70 274.61 178.20 274.90C178.70 275.19 179.56 276.76 180.18 277.37C180.79 277.98 182.18 280.44 182.80 279.50C183.42 278.56 184.37 272.21 184.83 270.31C185.28 268.40 185.60 262.55 186.20 265.20C186.80 267.85 188.67 287.60 189.30 290.20C189.93 292.80 190.48 286.45 190.94 284.71C191.41 282.98 192.36 278.29 192.80 277.20C193.24 276.11 193.80 276.65 194.26 276.54C194.71 276.42 195.70 276.12 196.23 276.36C196.76 276.61 197.79 278.20 198.25 278.35C198.72 278.51 199.27 277.78 199.70 277.50C200.13 277.22 201.01 276.31 201.48 276.27C201.95 276.23 202.62 277.26 203.19 277.18C203.77 277.11 205.04 275.50 205.80 275.70C206.56 275.90 208.26 278.39 208.90 278.70C209.54 279.01 210.17 278.06 210.64 278.04C211.10 278.02 211.79 278.67 212.37 278.56C212.95 278.45 214.44 277.44 215.00 277.20C215.56 276.96 216.06 276.78 216.56 276.77C217.06 276.76 218.16 277.15 218.78 277.10C219.39 277.05 220.50 276.28 221.20 276.40C221.90 276.52 223.63 277.79 224.00 278.00" fill="none" stroke="#000" stroke-width="1.35" stroke-linejoin="round"/>
<path d="M21.90 338.80C22.11 338.69 22.98 337.95 23.48 337.95C23.98 337.95 24.99 338.88 25.66 338.81C26.33 338.73 27.83 337.58 28.50 337.40C29.17 337.22 30.15 337.29 30.66 337.49C31.16 337.69 31.83 338.81 32.29 338.91C32.76 339.00 33.62 338.23 34.14 338.22C34.67 338.20 35.70 338.86 36.20 338.80C36.70 338.74 37.42 337.80 37.86 337.76C38.31 337.72 39.00 338.45 39.53 338.50C40.06 338.54 41.30 338.28 41.87 338.10C42.44 337.91 43.32 337.38 43.80 337.10C44.28 336.82 44.91 336.67 45.48 335.99C46.05 335.31 47.35 331.13 48.10 332.00C48.85 332.87 50.31 345.86 51.10 342.50C51.89 339.14 53.27 302.67 54.00 306.80C54.73 310.93 55.87 369.53 56.60 373.50C57.33 377.47 58.94 341.97 59.50 336.60C60.06 331.23 60.21 332.64 60.80 333.20C61.39 333.76 63.10 340.24 63.90 340.80C64.70 341.36 66.14 338.00 66.80 337.40C67.46 336.80 68.28 336.58 68.86 336.31C69.43 336.04 70.56 335.27 71.10 335.40C71.64 335.53 72.40 336.58 72.88 337.31C73.36 338.05 74.27 340.28 74.71 340.93C75.16 341.58 75.73 342.25 76.20 342.20C76.67 342.15 77.65 341.15 78.21 340.57C78.77 339.98 79.84 338.35 80.40 337.80C80.96 337.25 81.72 336.73 82.40 336.45C83.08 336.17 84.80 336.49 85.50 335.70C86.20 334.91 87.15 331.89 87.67 330.49C88.19 329.09 88.98 324.53 89.40 325.20C89.82 325.87 90.30 331.62 90.80 335.53C91.31 339.43 92.59 353.30 93.20 354.50C93.81 355.70 94.90 346.86 95.35 344.54C95.81 342.22 96.21 337.98 96.60 337.10C96.99 336.22 97.85 337.97 98.31 337.94C98.77 337.91 99.55 336.86 100.04 336.87C100.52 336.89 101.41 337.95 101.92 338.04C102.43 338.12 103.44 337.49 103.87 337.52C104.29 337.55 104.67 338.13 105.10 338.30C105.53 338.47 106.61 339.02 107.10 338.81C107.60 338.59 108.39 336.98 108.82 336.70C109.26 336.43 109.97 336.65 110.38 336.76C110.79 336.87 111.48 337.52 111.91 337.50C112.34 337.48 113.12 336.75 113.60 336.60C114.08 336.45 114.96 336.43 115.50 336.38C116.03 336.33 116.95 336.10 117.60 336.23C118.26 336.37 119.80 337.28 120.40 337.40C121.00 337.52 121.47 337.16 122.10 337.12C122.73 337.08 124.49 337.06 125.10 337.10C125.71 337.14 126.27 337.33 126.70 337.43C127.13 337.52 127.87 337.72 128.33 337.84C128.80 337.96 129.68 338.54 130.20 338.30C130.72 338.06 131.67 336.69 132.25 336.08C132.82 335.46 133.91 332.95 134.50 333.70C135.09 334.45 136.13 340.94 136.70 341.70C137.27 342.46 138.28 340.05 138.77 339.37C139.27 338.69 139.98 336.99 140.40 336.60C140.82 336.21 141.47 336.53 141.90 336.43C142.32 336.34 143.03 335.70 143.57 335.86C144.11 336.02 145.35 337.45 145.94 337.63C146.53 337.81 147.38 337.08 147.97 337.19C148.55 337.31 149.75 338.47 150.30 338.50C150.86 338.54 151.65 337.45 152.14 337.43C152.63 337.40 153.55 338.10 154.00 338.30C154.45 338.50 155.10 339.02 155.55 338.92C155.99 338.82 156.87 337.61 157.33 337.55C157.79 337.50 158.49 338.56 159.01 338.50C159.53 338.45 160.67 337.12 161.23 337.12C161.79 337.11 162.75 338.34 163.22 338.47C163.69 338.59 164.36 338.23 164.78 338.05C165.20 337.87 165.98 337.22 166.37 337.10C166.76 336.97 167.25 337.21 167.70 337.10C168.15 336.99 169.23 336.15 169.76 336.27C170.28 336.38 171.07 337.94 171.62 337.96C172.18 337.97 173.36 336.67 173.92 336.38C174.48 336.08 175.30 335.74 175.83 335.77C176.36 335.80 177.43 336.16 177.90 336.60C178.37 337.04 178.93 338.55 179.39 339.07C179.84 339.59 180.84 340.90 181.30 340.50C181.76 340.10 182.43 337.13 182.86 336.09C183.28 335.05 184.00 333.98 184.47 332.69C184.94 331.40 185.81 324.00 186.40 326.40C186.99 328.80 188.31 348.37 188.90 350.70C189.49 353.03 190.34 345.70 190.80 343.88C191.25 342.07 191.82 338.01 192.30 337.10C192.78 336.19 193.80 337.06 194.38 337.07C194.95 337.07 196.10 337.18 196.62 337.15C197.14 337.11 197.84 336.63 198.29 336.81C198.74 336.98 199.53 338.26 199.98 338.46C200.44 338.65 201.22 338.45 201.70 338.30C202.18 338.15 203.06 337.38 203.58 337.36C204.10 337.34 205.03 338.24 205.57 338.16C206.12 338.08 207.13 336.81 207.64 336.76C208.15 336.71 208.85 337.80 209.41 337.78C209.98 337.76 211.36 336.81 211.90 336.60C212.44 336.39 212.98 336.12 213.44 336.20C213.91 336.29 214.90 337.22 215.37 337.25C215.84 337.28 216.54 336.32 216.97 336.41C217.39 336.49 218.11 337.86 218.58 337.88C219.05 337.90 220.01 336.48 220.47 336.57C220.93 336.66 221.58 338.40 222.05 338.56C222.52 338.73 223.74 337.90 224.00 337.80" fill="none" stroke="#000" stroke-width="1.35" stroke-linejoin="round"/>
<path d="M224.30 96.50C224.50 97.01 225.36 100.09 225.80 100.30C226.24 100.51 227.07 98.77 227.59 98.05C228.11 97.33 229.02 94.87 229.70 94.90C230.38 94.93 231.89 98.13 232.70 98.30C233.51 98.47 235.12 96.53 235.80 96.20C236.48 95.87 237.22 95.73 237.83 95.81C238.44 95.89 239.64 96.88 240.40 96.80C241.16 96.72 242.89 95.04 243.50 95.20C244.11 95.36 244.39 97.83 245.00 98.00C245.61 98.17 247.38 97.11 248.10 96.50C248.82 95.89 249.69 93.04 250.40 93.40C251.11 93.76 252.65 101.15 253.40 99.20C254.15 97.25 255.28 76.31 256.00 78.80C256.72 81.29 258.07 115.54 258.80 117.90C259.53 120.26 260.85 99.77 261.50 96.50C262.15 93.23 263.03 92.96 263.70 93.40C264.37 93.84 265.84 99.21 266.50 99.80C267.16 100.39 268.11 98.40 268.62 97.86C269.12 97.31 269.84 96.26 270.30 95.70C270.76 95.14 271.49 94.05 272.10 93.63C272.72 93.22 274.34 92.27 274.90 92.60C275.46 92.93 275.95 95.50 276.33 96.14C276.71 96.78 277.33 96.72 277.76 97.38C278.18 98.04 279.02 100.88 279.50 101.10C279.98 101.32 280.82 99.87 281.32 99.04C281.83 98.21 282.79 95.31 283.30 94.90C283.81 94.49 284.64 95.63 285.14 95.94C285.65 96.25 286.53 97.50 287.10 97.20C287.67 96.90 288.72 95.39 289.40 93.70C290.08 92.01 291.60 83.74 292.20 84.50C292.80 85.26 293.46 95.76 293.92 99.40C294.37 103.04 295.13 111.17 295.60 111.80C296.07 112.43 296.85 106.50 297.46 104.15C298.08 101.81 299.64 95.16 300.20 94.20C300.76 93.24 301.20 96.71 301.64 96.95C302.08 97.20 303.09 95.89 303.51 96.03C303.93 96.17 304.44 97.75 304.80 98.00C305.16 98.25 305.85 98.21 306.23 97.94C306.60 97.66 307.21 96.15 307.63 95.97C308.05 95.80 308.92 96.81 309.36 96.62C309.81 96.44 310.56 94.81 310.97 94.58C311.37 94.35 311.90 94.28 312.40 94.90C312.90 95.52 314.18 98.98 314.70 99.20C315.22 99.42 315.82 96.83 316.26 96.57C316.70 96.31 317.49 97.50 318.00 97.24C318.51 96.98 319.41 94.39 320.10 94.60C320.79 94.81 322.51 98.52 323.20 98.80C323.89 99.08 324.79 97.13 325.30 96.72C325.80 96.31 326.59 95.63 327.00 95.70C327.41 95.77 327.99 97.30 328.41 97.28C328.83 97.27 329.70 95.80 330.16 95.58C330.62 95.36 331.42 95.45 331.85 95.64C332.29 95.82 332.96 96.78 333.40 96.98C333.84 97.17 334.70 97.18 335.15 97.09C335.60 96.99 336.29 96.12 336.76 96.28C337.24 96.43 338.29 98.13 338.72 98.25C339.15 98.38 339.56 97.38 340.00 97.20C340.44 97.02 341.52 96.85 342.03 96.87C342.54 96.89 343.41 97.38 343.83 97.34C344.24 97.29 344.71 96.50 345.13 96.51C345.56 96.52 346.53 97.46 347.02 97.42C347.52 97.37 348.38 96.09 348.84 96.19C349.30 96.28 350.01 98.09 350.47 98.14C350.93 98.19 351.69 96.73 352.29 96.58C352.89 96.43 354.42 96.82 355.00 97.00C355.58 97.18 356.20 98.09 356.61 97.95C357.02 97.80 357.64 95.91 358.07 95.92C358.51 95.94 359.39 98.06 359.89 98.07C360.40 98.08 361.35 96.02 361.86 96.00C362.36 95.98 363.23 97.77 363.68 97.89C364.12 98.01 364.63 96.97 365.21 96.88C365.78 96.79 367.34 97.37 368.00 97.20C368.66 97.03 369.62 95.93 370.13 95.61C370.64 95.29 371.38 94.35 371.80 94.80C372.22 95.25 372.74 98.71 373.30 99.00C373.86 99.29 375.44 97.22 376.00 97.00C376.56 96.78 377.14 97.40 377.51 97.34C377.89 97.28 378.48 96.59 378.83 96.54C379.19 96.50 379.75 97.03 380.16 96.97C380.58 96.90 381.48 95.98 381.95 96.04C382.42 96.11 383.15 97.31 383.69 97.44C384.23 97.57 385.37 97.78 386.00 97.00C386.63 96.22 387.73 90.96 388.40 91.60C389.07 92.24 390.32 101.08 391.00 101.80C391.68 102.52 392.98 97.73 393.50 97.00C394.02 96.27 394.48 96.23 394.93 96.32C395.37 96.41 396.32 97.72 396.82 97.68C397.32 97.65 398.21 95.92 398.69 96.07C399.17 96.21 399.95 98.75 400.43 98.79C400.92 98.84 401.83 96.53 402.31 96.42C402.79 96.31 403.62 97.94 404.05 97.95C404.49 97.96 405.17 96.63 405.55 96.46C405.94 96.30 406.56 96.65 406.92 96.71C407.29 96.77 407.88 96.85 408.29 96.92C408.70 96.99 409.48 96.95 410.00 97.20C410.52 97.45 411.72 98.86 412.18 98.77C412.65 98.68 413.09 96.90 413.49 96.53C413.88 96.16 414.69 96.07 415.13 96.00C415.57 95.94 416.31 95.86 416.77 96.04C417.24 96.23 418.19 97.32 418.63 97.39C419.07 97.46 419.65 96.58 420.06 96.60C420.47 96.62 421.28 97.51 421.71 97.54C422.13 97.58 422.68 96.92 423.25 96.88C423.82 96.83 425.63 97.16 426.00 97.20" fill="none" stroke="#000" stroke-width="1.35" stroke-linejoin="round"/>
<path d="M224.30 157.90C224.53 157.74 225.50 156.77 226.00 156.69C226.51 156.61 227.58 157.29 228.10 157.30C228.62 157.31 229.41 157.10 229.93 156.73C230.45 156.35 231.42 154.34 232.00 154.50C232.58 154.66 233.79 157.51 234.30 157.90C234.81 158.29 235.37 157.36 235.82 157.43C236.28 157.50 237.10 158.43 237.71 158.41C238.32 158.40 239.81 157.62 240.40 157.30C240.99 156.98 241.66 156.18 242.17 155.98C242.68 155.78 243.62 155.42 244.20 155.80C244.78 156.18 245.97 158.71 246.50 158.80C247.03 158.89 247.69 157.31 248.14 156.49C248.59 155.68 249.44 152.69 249.90 152.70C250.36 152.71 251.09 155.71 251.56 156.57C252.03 157.42 252.81 161.52 253.40 159.10C253.99 156.68 255.28 135.79 256.00 138.40C256.72 141.01 258.07 176.45 258.80 178.70C259.53 180.95 260.93 158.73 261.50 155.30C262.07 151.87 262.68 152.98 263.10 153.00C263.52 153.02 264.20 154.62 264.65 155.43C265.10 156.25 266.03 158.60 266.50 159.10C266.97 159.60 267.61 159.45 268.21 159.15C268.81 158.84 270.21 157.51 271.00 156.80C271.79 156.09 273.45 153.82 274.10 153.80C274.75 153.78 275.42 156.18 275.85 156.62C276.27 157.05 276.90 156.64 277.29 157.08C277.67 157.52 278.10 159.83 278.70 159.90C279.30 159.97 280.99 158.28 281.80 157.60C282.61 156.92 284.14 154.95 284.80 154.80C285.46 154.65 286.14 156.26 286.75 156.47C287.37 156.69 288.67 158.13 289.40 156.40C290.13 154.67 291.60 143.37 292.20 143.50C292.80 143.63 293.47 153.62 293.92 157.38C294.38 161.14 295.13 170.61 295.60 171.70C296.07 172.79 296.85 167.73 297.46 165.54C298.07 163.36 299.57 156.71 300.20 155.30C300.83 153.89 301.61 154.60 302.22 154.95C302.83 155.29 304.20 157.63 304.80 157.90C305.40 158.17 306.24 157.05 306.71 157.00C307.18 156.95 307.91 157.64 308.33 157.53C308.75 157.43 309.31 156.31 309.85 156.21C310.39 156.12 311.80 156.67 312.40 156.80C313.00 156.93 313.82 157.32 314.34 157.19C314.86 157.06 315.84 156.03 316.29 155.82C316.74 155.61 317.21 155.54 317.72 155.62C318.23 155.70 319.50 156.34 320.10 156.40C320.70 156.46 321.64 155.80 322.25 156.06C322.87 156.33 324.07 158.35 324.70 158.40C325.33 158.45 326.45 156.75 327.00 156.40C327.55 156.05 328.34 155.73 328.81 155.77C329.28 155.82 330.07 156.68 330.56 156.74C331.04 156.79 331.96 156.09 332.44 156.17C332.91 156.24 333.67 157.38 334.10 157.30C334.54 157.23 335.22 155.56 335.69 155.61C336.16 155.66 337.20 157.61 337.65 157.69C338.11 157.76 338.67 156.17 339.10 156.17C339.53 156.17 340.43 157.65 340.88 157.69C341.33 157.73 342.00 156.36 342.45 156.46C342.91 156.56 343.86 158.47 344.29 158.45C344.72 158.42 345.22 156.58 345.67 156.27C346.12 155.95 347.09 155.93 347.66 156.11C348.24 156.29 349.47 157.25 350.00 157.60C350.53 157.95 351.19 158.79 351.61 158.72C352.04 158.65 352.77 157.06 353.18 157.06C353.58 157.07 354.24 158.57 354.65 158.78C355.06 158.98 355.85 158.60 356.25 158.59C356.66 158.58 357.32 158.87 357.68 158.68C358.05 158.48 358.57 157.14 358.99 157.14C359.40 157.14 360.35 158.63 360.79 158.68C361.23 158.73 361.89 157.83 362.29 157.50C362.68 157.18 363.36 156.14 363.76 156.24C364.16 156.35 364.85 158.32 365.27 158.29C365.69 158.26 366.47 156.32 366.91 156.04C367.34 155.76 368.09 156.01 368.51 156.22C368.92 156.42 369.57 157.32 370.00 157.60C370.43 157.88 371.26 158.35 371.75 158.28C372.24 158.22 373.19 157.08 373.67 157.10C374.15 157.12 374.93 158.55 375.36 158.45C375.78 158.35 376.45 156.38 376.84 156.36C377.24 156.33 377.92 158.17 378.31 158.27C378.69 158.37 379.30 157.04 379.70 157.11C380.11 157.18 380.95 158.90 381.35 158.77C381.75 158.64 382.29 156.24 382.69 156.13C383.09 156.03 383.88 157.81 384.32 158.01C384.76 158.20 385.42 158.68 386.00 157.60C386.58 156.52 387.94 149.25 388.70 149.90C389.46 150.55 390.99 161.47 391.70 162.50C392.41 163.53 393.43 158.42 394.00 157.60C394.57 156.78 395.48 156.26 395.97 156.37C396.47 156.49 397.28 158.39 397.71 158.44C398.15 158.50 398.79 156.72 399.25 156.77C399.71 156.83 400.69 158.82 401.15 158.83C401.61 158.84 402.28 156.87 402.71 156.85C403.13 156.83 403.90 158.67 404.34 158.70C404.78 158.73 405.54 157.23 406.01 157.07C406.48 156.90 407.32 157.38 407.85 157.45C408.38 157.52 409.49 157.71 410.00 157.60C410.51 157.49 411.25 156.57 411.64 156.60C412.03 156.63 412.58 157.76 412.94 157.80C413.31 157.83 413.93 156.97 414.38 156.87C414.83 156.76 415.83 156.82 416.32 157.04C416.81 157.26 417.58 158.62 418.05 158.53C418.51 158.44 419.33 156.44 419.81 156.38C420.29 156.32 421.16 157.99 421.66 158.10C422.17 158.20 423.02 157.23 423.60 157.16C424.18 157.09 425.68 157.54 426.00 157.60" fill="none" stroke="#000" stroke-width="1.35" stroke-linejoin="round"/>
<path d="M224.30 217.90C224.56 217.84 225.70 217.38 226.21 217.46C226.73 217.55 227.70 218.65 228.17 218.56C228.63 218.47 229.26 217.10 229.70 216.80C230.14 216.50 231.05 216.20 231.46 216.33C231.87 216.46 232.39 217.60 232.77 217.77C233.15 217.94 233.84 217.42 234.30 217.60C234.76 217.78 235.77 218.92 236.22 219.15C236.66 219.38 237.28 219.46 237.66 219.34C238.04 219.21 238.71 218.40 239.07 218.21C239.44 218.02 239.96 217.92 240.40 217.90C240.84 217.88 241.77 218.22 242.39 218.02C243.00 217.82 244.45 216.35 245.00 216.40C245.55 216.45 246.04 218.52 246.50 218.40C246.96 218.28 247.90 216.13 248.47 215.51C249.04 214.90 250.14 213.22 250.80 213.80C251.46 214.38 252.71 222.42 253.40 219.90C254.09 217.38 255.28 191.74 256.00 194.90C256.72 198.06 258.19 239.02 258.80 243.60C259.41 248.18 260.12 233.14 260.57 229.26C261.02 225.38 261.78 216.36 262.20 214.50C262.62 212.64 263.13 214.69 263.70 215.30C264.27 215.91 265.86 218.63 266.50 219.10C267.14 219.57 267.97 219.15 268.47 218.84C268.98 218.54 269.84 217.12 270.30 216.80C270.76 216.48 271.44 216.84 271.95 216.44C272.46 216.04 273.57 213.88 274.10 213.80C274.63 213.72 275.38 214.90 275.89 215.82C276.40 216.74 277.22 220.46 277.90 220.70C278.58 220.94 280.17 218.32 281.00 217.60C281.83 216.88 283.48 215.37 284.10 215.30C284.72 215.23 285.17 216.94 285.62 217.09C286.07 217.25 287.06 216.38 287.47 216.45C287.89 216.52 288.14 218.98 288.70 217.60C289.26 216.22 291.03 205.94 291.70 206.10C292.37 206.26 293.25 215.76 293.73 218.83C294.21 221.89 294.80 228.77 295.30 229.10C295.80 229.43 296.83 223.28 297.48 221.33C298.13 219.39 299.56 215.15 300.20 214.50C300.84 213.85 301.65 215.97 302.27 216.49C302.88 217.01 304.18 218.20 304.80 218.40C305.42 218.60 306.42 217.98 306.91 218.01C307.40 218.04 308.05 218.37 308.47 218.62C308.90 218.87 309.65 219.77 310.10 219.90C310.55 220.03 311.38 220.03 311.84 219.60C312.30 219.16 313.06 217.01 313.55 216.64C314.04 216.26 315.02 216.55 315.50 216.80C315.98 217.05 316.65 218.34 317.12 218.50C317.59 218.67 318.51 217.77 319.01 218.01C319.52 218.26 320.43 220.10 320.88 220.36C321.33 220.61 321.94 220.12 322.40 219.90C322.86 219.68 323.73 219.03 324.34 218.73C324.96 218.42 326.38 217.79 327.00 217.60C327.62 217.41 328.49 217.10 329.00 217.28C329.51 217.45 330.39 218.94 330.86 218.90C331.32 218.85 332.08 217.01 332.48 216.96C332.87 216.90 333.41 218.24 333.84 218.47C334.27 218.70 335.21 218.87 335.70 218.67C336.20 218.46 337.10 216.90 337.54 216.96C337.98 217.02 338.58 219.04 339.01 219.08C339.43 219.12 340.23 217.33 340.71 217.26C341.20 217.18 342.13 218.61 342.64 218.53C343.15 218.44 344.08 216.56 344.56 216.63C345.04 216.70 345.78 218.94 346.22 219.06C346.66 219.17 347.36 217.65 347.86 217.51C348.36 217.36 349.52 217.88 350.00 218.00C350.48 218.12 351.09 218.53 351.47 218.37C351.84 218.20 352.40 216.61 352.80 216.75C353.21 216.88 354.01 219.31 354.49 219.39C354.97 219.48 355.93 217.41 356.40 217.38C356.87 217.35 357.55 219.20 358.02 219.18C358.50 219.15 359.47 217.30 359.99 217.20C360.51 217.10 361.49 218.34 361.92 218.43C362.36 218.51 362.86 218.06 363.27 217.84C363.68 217.63 364.55 216.67 364.99 216.79C365.43 216.91 366.17 218.51 366.56 218.75C366.96 219.00 367.49 218.74 367.95 218.64C368.41 218.54 369.49 218.21 370.00 218.00C370.51 217.79 371.36 216.88 371.79 217.05C372.21 217.22 372.82 218.96 373.20 219.27C373.59 219.57 374.29 219.66 374.67 219.34C375.05 219.02 375.65 216.94 376.07 216.88C376.49 216.81 377.43 218.75 377.84 218.84C378.26 218.92 378.74 217.50 379.15 217.51C379.57 217.52 380.52 218.71 380.96 218.91C381.39 219.11 382.02 219.02 382.39 219.02C382.76 219.02 383.24 219.04 383.72 218.90C384.20 218.76 385.34 219.09 386.00 218.00C386.66 216.91 387.94 210.10 388.70 210.70C389.46 211.30 390.99 221.53 391.70 222.50C392.41 223.47 393.42 218.71 394.00 218.00C394.58 217.29 395.59 217.06 396.07 217.18C396.55 217.30 397.21 218.76 397.61 218.91C398.00 219.07 398.62 218.41 399.02 218.34C399.43 218.27 400.24 218.55 400.67 218.42C401.09 218.29 401.73 217.24 402.19 217.36C402.65 217.48 403.68 219.09 404.12 219.30C404.56 219.51 405.05 218.94 405.50 218.92C405.95 218.90 406.89 219.28 407.49 219.16C408.09 219.03 409.42 218.05 410.00 218.00C410.58 217.95 411.39 218.84 411.82 218.79C412.25 218.73 412.85 217.59 413.25 217.58C413.66 217.57 414.38 218.78 414.86 218.69C415.33 218.60 416.34 217.17 416.79 216.90C417.25 216.62 417.83 216.58 418.25 216.61C418.67 216.65 419.53 216.84 419.95 217.18C420.36 217.52 420.97 218.97 421.34 219.18C421.72 219.39 422.33 219.06 422.77 218.75C423.21 218.44 424.18 216.95 424.61 216.84C425.04 216.72 425.81 217.76 426.00 217.90" fill="none" stroke="#000" stroke-width="1.35" stroke-linejoin="round"/>
<path d="M224.30 278.00C224.58 278.08 225.86 278.66 226.37 278.59C226.87 278.53 227.62 277.74 228.10 277.50C228.58 277.26 229.55 276.80 229.98 276.80C230.40 276.80 230.88 277.50 231.28 277.47C231.67 277.44 232.54 276.62 232.94 276.58C233.35 276.54 233.84 276.99 234.30 277.20C234.76 277.41 235.86 278.13 236.40 278.17C236.94 278.21 237.83 277.54 238.37 277.52C238.90 277.49 239.92 277.98 240.40 278.00C240.88 278.02 241.56 277.49 241.95 277.66C242.33 277.83 242.94 279.26 243.32 279.27C243.70 279.28 244.37 277.83 244.79 277.75C245.22 277.68 246.01 278.82 246.50 278.70C246.99 278.58 247.89 277.71 248.46 276.86C249.04 276.01 250.10 271.53 250.80 272.30C251.50 273.07 252.97 285.32 253.70 282.60C254.43 279.88 255.62 248.63 256.30 251.90C256.98 255.17 258.11 303.73 258.80 307.10C259.49 310.47 260.89 281.64 261.50 277.20C262.11 272.76 262.73 273.43 263.40 273.80C264.07 274.17 265.85 279.38 266.50 280.00C267.15 280.62 267.69 278.80 268.29 278.43C268.89 278.06 270.41 277.28 271.00 277.20C271.59 277.12 272.20 278.01 272.72 277.81C273.24 277.61 274.34 275.62 274.90 275.70C275.46 275.78 276.43 277.56 276.90 278.38C277.36 279.19 277.97 281.42 278.40 281.80C278.83 282.18 279.67 281.79 280.11 281.25C280.55 280.71 281.28 278.31 281.71 277.73C282.13 277.15 282.86 276.93 283.30 276.90C283.74 276.87 284.53 277.63 284.97 277.48C285.40 277.33 286.18 276.10 286.57 275.75C286.96 275.41 287.43 275.85 287.90 274.90C288.37 273.95 289.49 270.03 290.07 268.61C290.64 267.18 291.50 261.11 292.20 264.20C292.90 267.29 294.64 288.96 295.30 291.80C295.96 294.64 296.58 287.58 297.12 285.52C297.67 283.47 298.91 277.73 299.40 276.40C299.89 275.07 300.44 275.30 300.82 275.55C301.19 275.80 301.68 277.85 302.21 278.27C302.75 278.69 304.26 278.78 304.80 278.70C305.34 278.62 305.80 277.79 306.23 277.71C306.65 277.63 307.55 278.37 307.98 278.11C308.41 277.85 309.07 276.00 309.46 275.77C309.85 275.54 310.45 276.08 310.90 276.40C311.35 276.72 312.38 278.10 312.82 278.15C313.26 278.19 313.64 276.66 314.20 276.73C314.76 276.81 316.43 278.58 317.00 278.70C317.57 278.82 318.11 277.62 318.50 277.63C318.88 277.64 319.50 278.84 319.89 278.75C320.28 278.65 320.98 276.98 321.40 276.93C321.81 276.88 322.57 278.39 322.98 278.37C323.39 278.35 323.95 276.94 324.48 276.78C325.02 276.63 326.45 277.17 327.00 277.20C327.55 277.23 328.15 277.10 328.58 276.98C329.01 276.87 329.81 276.14 330.24 276.33C330.67 276.51 331.37 278.36 331.80 278.37C332.24 278.39 333.11 276.73 333.51 276.46C333.92 276.20 334.44 276.09 334.82 276.39C335.20 276.69 335.91 278.69 336.37 278.71C336.83 278.72 337.82 276.66 338.27 276.52C338.72 276.38 339.32 277.64 339.74 277.65C340.16 277.66 340.98 276.57 341.43 276.59C341.87 276.60 342.65 277.84 343.07 277.74C343.49 277.64 344.11 275.79 344.57 275.85C345.04 275.91 346.10 278.13 346.56 278.18C347.03 278.23 347.61 276.29 348.07 276.20C348.53 276.11 349.51 277.43 350.00 277.50C350.49 277.57 351.31 276.82 351.76 276.69C352.21 276.57 352.93 276.37 353.38 276.56C353.84 276.75 354.75 278.07 355.19 278.08C355.63 278.10 356.28 276.60 356.69 276.66C357.10 276.72 357.83 278.40 358.27 278.53C358.70 278.66 359.52 277.91 359.96 277.63C360.39 277.34 361.11 276.30 361.52 276.39C361.94 276.48 362.60 278.25 363.05 278.30C363.50 278.35 364.40 276.82 364.90 276.77C365.40 276.72 366.32 277.87 366.80 277.93C367.27 278.00 368.02 277.33 368.45 277.27C368.87 277.21 369.60 277.34 370.00 277.50C370.40 277.66 371.07 278.48 371.48 278.45C371.88 278.42 372.62 277.22 373.04 277.26C373.46 277.31 374.19 278.66 374.62 278.79C375.06 278.93 375.86 278.49 376.31 278.27C376.77 278.04 377.53 277.12 378.02 277.08C378.50 277.05 379.41 278.06 379.93 277.98C380.45 277.91 381.43 276.71 381.91 276.53C382.39 276.35 383.00 276.49 383.55 276.62C384.09 276.75 385.35 278.41 386.00 277.50C386.65 276.59 387.69 268.92 388.40 269.80C389.11 270.68 390.55 283.07 391.30 284.10C392.05 285.13 393.39 278.44 394.00 277.50C394.61 276.56 395.43 277.05 395.88 277.08C396.34 277.11 396.96 277.79 397.43 277.73C397.90 277.67 398.93 276.46 399.43 276.64C399.92 276.82 400.76 279.02 401.17 279.06C401.58 279.10 402.11 277.04 402.50 276.91C402.89 276.78 403.63 278.02 404.09 278.10C404.55 278.18 405.49 277.72 405.94 277.50C406.39 277.28 406.91 276.42 407.45 276.42C408.00 276.42 409.47 277.30 410.00 277.50C410.53 277.70 411.08 277.74 411.45 277.89C411.82 278.05 412.34 278.91 412.76 278.66C413.18 278.40 414.15 276.08 414.60 276.01C415.05 275.93 415.68 278.06 416.12 278.08C416.57 278.11 417.48 276.13 417.92 276.21C418.37 276.30 419.08 278.77 419.47 278.69C419.87 278.62 420.50 275.74 420.89 275.68C421.28 275.61 422.00 278.07 422.38 278.21C422.76 278.35 423.26 276.81 423.75 276.72C424.23 276.62 425.70 277.40 426.00 277.50" fill="none" stroke="#000" stroke-width="1.35" stroke-linejoin="round"/>
<path d="M224.60 338.30C224.84 338.43 225.90 339.18 226.39 339.24C226.87 339.31 227.69 339.03 228.24 338.78C228.79 338.53 230.00 337.38 230.50 337.40C231.00 337.42 231.57 338.96 231.99 338.93C232.41 338.91 233.23 337.29 233.67 337.23C234.10 337.18 234.82 338.49 235.24 338.55C235.66 338.61 236.32 337.70 236.82 337.66C237.32 337.63 238.51 338.03 239.00 338.30C239.49 338.57 240.08 339.81 240.47 339.70C240.87 339.59 241.51 337.49 241.96 337.50C242.41 337.51 243.34 339.68 243.85 339.79C244.36 339.89 245.33 338.76 245.80 338.30C246.27 337.84 246.79 336.80 247.37 336.34C247.94 335.89 249.47 334.49 250.10 334.90C250.73 335.31 251.61 338.59 252.07 339.43C252.52 340.27 252.91 345.32 253.50 341.20C254.09 337.08 255.75 304.42 256.50 308.50C257.25 312.58 258.43 367.60 259.10 371.80C259.77 376.00 260.89 345.15 261.50 340.00C262.11 334.85 263.07 333.09 263.70 333.20C264.33 333.31 265.64 340.07 266.20 340.80C266.76 341.53 267.43 339.15 267.89 338.69C268.36 338.24 269.22 337.61 269.70 337.40C270.18 337.19 271.05 337.45 271.51 337.10C271.98 336.74 272.75 335.05 273.19 334.76C273.63 334.46 274.39 334.34 274.80 334.90C275.21 335.46 275.82 337.99 276.27 338.96C276.72 339.93 277.69 342.12 278.20 342.20C278.71 342.28 279.69 339.89 280.13 339.56C280.57 339.23 280.98 340.13 281.51 339.73C282.04 339.34 283.55 337.25 284.10 336.60C284.65 335.95 285.16 335.08 285.60 334.85C286.04 334.61 286.92 334.94 287.40 334.83C287.88 334.72 288.61 335.47 289.20 334.00C289.79 332.53 291.24 323.41 291.80 323.80C292.36 324.19 292.93 332.60 293.42 336.92C293.91 341.24 294.97 354.94 295.50 356.20C296.03 357.46 296.97 348.98 297.43 346.36C297.88 343.75 298.48 337.97 298.90 336.60C299.32 335.23 300.13 336.07 300.58 336.09C301.04 336.12 301.90 336.45 302.32 336.78C302.74 337.10 303.37 338.45 303.75 338.53C304.12 338.62 304.68 337.45 305.13 337.42C305.58 337.38 306.56 338.14 307.10 338.30C307.64 338.46 308.67 338.81 309.17 338.61C309.67 338.41 310.40 336.83 310.87 336.81C311.34 336.78 312.24 338.25 312.67 338.43C313.11 338.62 313.74 338.54 314.15 338.18C314.56 337.83 315.34 335.98 315.76 335.77C316.17 335.56 316.83 336.61 317.30 336.60C317.77 336.59 318.78 335.50 319.26 335.71C319.73 335.92 320.38 338.08 320.83 338.15C321.28 338.22 322.16 336.22 322.65 336.23C323.15 336.24 323.96 337.94 324.53 338.21C325.11 338.49 326.43 338.24 327.00 338.30C327.57 338.36 328.31 338.76 328.81 338.68C329.31 338.60 330.31 337.60 330.76 337.69C331.20 337.78 331.72 339.39 332.15 339.35C332.58 339.31 333.56 337.46 333.98 337.41C334.40 337.35 334.90 338.93 335.31 338.94C335.73 338.94 336.62 337.38 337.10 337.47C337.59 337.56 338.52 339.59 338.97 339.60C339.41 339.61 340.03 337.56 340.45 337.54C340.87 337.51 341.65 339.43 342.13 339.42C342.62 339.41 343.62 337.51 344.11 337.45C344.61 337.40 345.40 338.80 345.86 339.01C346.32 339.23 346.99 339.15 347.54 339.06C348.09 338.96 349.44 338.45 350.00 338.30C350.56 338.15 351.34 338.02 351.76 337.90C352.18 337.77 352.75 337.24 353.14 337.36C353.53 337.48 354.24 338.84 354.66 338.78C355.09 338.73 355.87 337.00 356.29 336.95C356.72 336.90 357.45 338.23 357.85 338.41C358.24 338.58 358.90 338.20 359.26 338.28C359.63 338.36 360.26 338.84 360.61 339.01C360.97 339.18 361.48 339.59 361.92 339.55C362.36 339.52 363.41 339.05 363.92 338.75C364.43 338.44 365.32 337.21 365.74 337.26C366.17 337.31 366.53 338.97 367.10 339.10C367.67 339.24 369.39 338.60 370.00 338.30C370.61 338.00 371.24 336.94 371.69 336.85C372.15 336.77 372.95 337.44 373.38 337.69C373.81 337.93 374.48 338.79 374.94 338.70C375.40 338.61 376.37 337.15 376.82 337.01C377.27 336.88 377.92 337.46 378.29 337.69C378.66 337.93 379.21 338.82 379.62 338.77C380.02 338.73 380.86 337.31 381.31 337.33C381.77 337.34 382.57 338.89 383.05 338.90C383.54 338.91 384.47 337.50 384.93 337.42C385.39 337.34 386.00 339.21 386.50 338.30C387.00 337.39 388.11 329.92 388.70 330.60C389.29 331.28 390.33 342.37 390.90 343.40C391.47 344.43 392.46 338.85 393.00 338.30C393.54 337.75 394.42 339.38 394.93 339.31C395.44 339.23 396.30 337.83 396.81 337.73C397.32 337.64 398.30 338.59 398.74 338.58C399.19 338.58 399.77 337.65 400.16 337.68C400.55 337.70 401.25 338.81 401.67 338.78C402.08 338.74 402.84 337.34 403.28 337.39C403.72 337.44 404.54 338.99 404.97 339.17C405.40 339.35 406.12 338.74 406.51 338.71C406.91 338.67 407.49 338.97 407.95 338.91C408.42 338.86 409.50 338.24 410.00 338.30C410.50 338.36 411.24 339.41 411.70 339.34C412.15 339.28 412.96 337.86 413.40 337.84C413.84 337.81 414.56 338.96 415.00 339.17C415.43 339.39 416.22 339.65 416.67 339.46C417.12 339.27 417.93 337.75 418.36 337.74C418.80 337.74 419.55 339.46 419.94 339.41C420.33 339.36 420.95 337.41 421.32 337.37C421.69 337.33 422.30 338.86 422.75 339.10C423.19 339.34 424.23 339.29 424.67 339.19C425.10 339.08 425.82 338.42 426.00 338.30" fill="none" stroke="#000" stroke-width="1.35" stroke-linejoin="round"/>
<path d="M451.31 124.36V165.07M448.01 124.36h6.6M448.01 165.07h6.6" stroke="#0000ff" stroke-width="1.7" fill="none"/>
<circle cx="451.31" cy="144.71" r="4.8" fill="#0000ff"/>
<path d="M457.64 156.93V197.64M454.34 156.93h6.6M454.34 197.64h6.6" stroke="#0000ff" stroke-width="1.7" fill="none"/>
<circle cx="457.64" cy="177.28" r="4.8" fill="#0000ff"/>
<path d="M521.17 283.13V323.84M517.88 283.13h6.6M517.88 323.84h6.6" stroke="#0000ff" stroke-width="1.7" fill="none"/>
<circle cx="521.17" cy="303.48" r="4.8" fill="#0000ff"/>
<path d="M552.56 291.27V331.98M549.26 291.27h6.6M549.26 331.98h6.6" stroke="#0000ff" stroke-width="1.7" fill="none"/>
<circle cx="552.56" cy="311.62" r="4.8" fill="#0000ff"/>
<path d="M609.77 336.05V376.76M606.47 336.05h6.6M606.47 376.76h6.6" stroke="#0000ff" stroke-width="1.7" fill="none"/>
<circle cx="609.77" cy="356.41" r="4.8" fill="#0000ff"/>
<path d="M451.31 161.00V201.71M448.01 161.00h6.6M448.01 201.71h6.6" stroke="#000" stroke-width="1.7" fill="none"/>
<circle cx="451.31" cy="181.35" r="4.8" fill="#000"/>
<path d="M457.64 116.22V156.93M454.34 116.22h6.6M454.34 156.93h6.6" stroke="#000" stroke-width="1.7" fill="none"/>
<circle cx="457.64" cy="136.57" r="4.8" fill="#000"/>
<path d="M521.17 152.86V193.57M517.88 152.86h6.6M517.88 193.57h6.6" stroke="#000" stroke-width="1.7" fill="none"/>
<circle cx="521.17" cy="173.21" r="4.8" fill="#000"/>
<path d="M552.56 197.64V238.35M549.26 197.64h6.6M549.26 238.35h6.6" stroke="#000" stroke-width="1.7" fill="none"/>
<circle cx="552.56" cy="217.99" r="4.8" fill="#000"/>
<path d="M609.77 246.49V287.20M606.47 246.49h6.6M606.47 287.20h6.6" stroke="#000" stroke-width="1.7" fill="none"/>
<circle cx="609.77" cy="266.84" r="4.8" fill="#000"/>
<path d="M507.50 31.80V48.60M504.20 31.80h6.6M504.20 48.60h6.6" stroke="#0000ff" stroke-width="1.7" fill="none"/>
<circle cx="507.50" cy="40.20" r="4.8" fill="#0000ff"/>
<path d="M507.50 58.70V75.50M504.20 58.70h6.6M504.20 75.50h6.6" stroke="#000" stroke-width="1.7" fill="none"/>
<circle cx="507.50" cy="67.10" r="4.8" fill="#000"/>
<text transform="translate(522.92 45.50) scale(1 1.04)" font-size="16" fill="#0000ff" letter-spacing="0.4">with NH</text>
<text transform="translate(582.16 50.20) scale(1 1.04)" font-size="11.5" fill="#0000ff" >3</text>
<text transform="translate(523.32 72.60) scale(1 1.04)" font-size="16" letter-spacing="0.35">without NH</text>
<text transform="translate(605.76 77.20) scale(1 1.04)" font-size="11.5" >3</text>
</svg>
</body></html>
